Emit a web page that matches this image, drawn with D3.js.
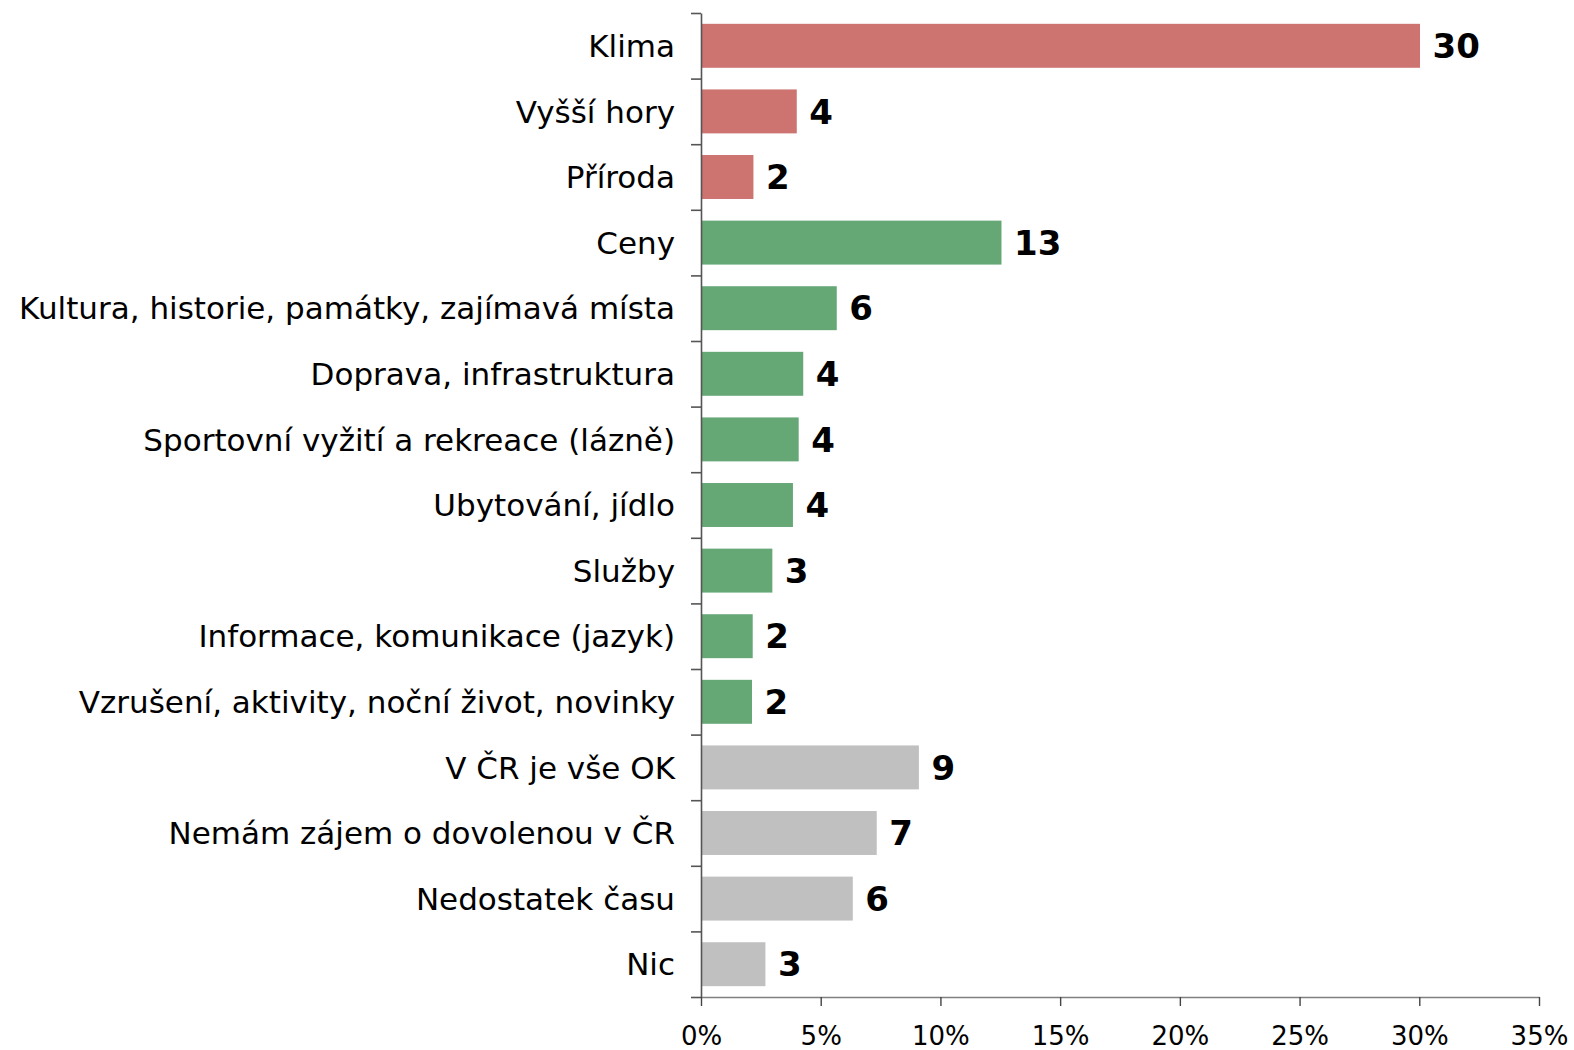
<!DOCTYPE html>
<html>
<head>
<meta charset="utf-8">
<script src="https://cdn.jsdelivr.net/npm/d3@7"></script>
<style>
  html, body { margin: 0; padding: 0; background: #fff; }
  svg { display: block; font-family: "DejaVu Sans", Verdana, sans-serif; }
</style>
</head>
<body>
<svg id="chart" width="1574" height="1050"></svg>
<script>
// Categories, top to bottom
const categories = [
  "Klima",
  "Vyšší hory",
  "Příroda",
  "Ceny",
  "Kultura, historie, památky, zajímavá místa",
  "Doprava, infrastruktura",
  "Sportovní vyžití a rekreace (lázně)",
  "Ubytování, jídlo",
  "Služby",
  "Informace, komunikace (jazyk)",
  "Vzrušení, aktivity, noční život, novinky",
  "V ČR je vše OK",
  "Nemám zájem o dovolenou v ČR",
  "Nedostatek času",
  "Nic"
];

// Share of answers, in percent
const values = [30.03, 4.0, 2.19, 12.55, 5.67, 4.27, 4.08, 3.84, 2.98, 2.16, 2.13, 9.1, 7.34, 6.34, 2.69];

// Colour group of each category
const groups = ["a", "a", "a", "b", "b", "b", "b", "b", "b", "b", "b", "c", "c", "c", "c"];

// X axis ticks (percent)
const xTicks = [0, 5, 10, 15, 20, 25, 30, 35];

const data = categories.map((c, i) => ({ cat: c, value: values[i], group: groups[i] }));

const svg = d3.select("#chart");

const x = d3.scaleLinear().domain([0, 35]).range([701, 1539]);
const y = d3.scaleBand().domain(categories).range([13, 997]).paddingInner(0.33).paddingOuter(0.165);
const yEdge = d3.scaleLinear().domain([0, categories.length]).range([13, 997]);
const color = d3.scaleOrdinal().domain(["a", "b", "c"]).range(["#CD7370", "#66A776", "#C0C0C0"]);
const fmt = d3.format(".0f");

// Bars
svg.append("g")
  .selectAll("rect")
  .data(data)
  .join("rect")
  .attr("x", x(0))
  .attr("y", d => y(d.cat))
  .attr("width", d => x(d.value) - x(0))
  .attr("height", y.bandwidth())
  .attr("fill", d => color(d.group));

// Value labels
svg.append("g")
  .selectAll("text")
  .data(data)
  .join("text")
  .attr("x", d => x(d.value) + 12.5)
  .attr("y", d => y(d.cat) + y.bandwidth() / 2)
  .attr("dy", "0.36em")
  .attr("font-size", 34)
  .attr("font-weight", "bold")
  .attr("fill", "#000")
  .text(d => fmt(d.value));

// Category labels
svg.append("g")
  .selectAll("text")
  .data(data)
  .join("text")
  .attr("x", 675)
  .attr("y", d => y(d.cat) + y.bandwidth() / 2)
  .attr("dy", "0.36em")
  .attr("text-anchor", "end")
  .attr("font-size", 31)
  .attr("fill", "#000")
  .text(d => d.cat);

// Y axis with ticks at category boundaries
const yAxis = svg.append("g")
  .attr("transform", `translate(${x(0)},0)`)
  .call(d3.axisLeft(yEdge).tickValues(d3.range(categories.length + 1)).tickFormat("").tickSize(10).tickSizeOuter(0));
yAxis.select(".domain").attr("stroke", "#555").attr("stroke-width", 1.6);
yAxis.selectAll(".tick line").attr("stroke", "#555").attr("stroke-width", 1.6);

// X axis
const xAxis = svg.append("g")
  .attr("transform", `translate(0,${yEdge(categories.length)})`)
  .call(d3.axisBottom(x).tickValues(xTicks).tickFormat(d => d + "%").tickSize(9).tickSizeOuter(0).tickPadding(21));
xAxis.select(".domain").attr("stroke", "#808080").attr("stroke-width", 1.6);
xAxis.selectAll(".tick line").attr("stroke", "#444").attr("stroke-width", 1.4);
xAxis.selectAll(".tick text")
  .attr("font-size", 26)
  .attr("font-family", "'DejaVu Sans', Verdana, sans-serif")
  .attr("fill", "#000");
</script>
</body>
</html>
